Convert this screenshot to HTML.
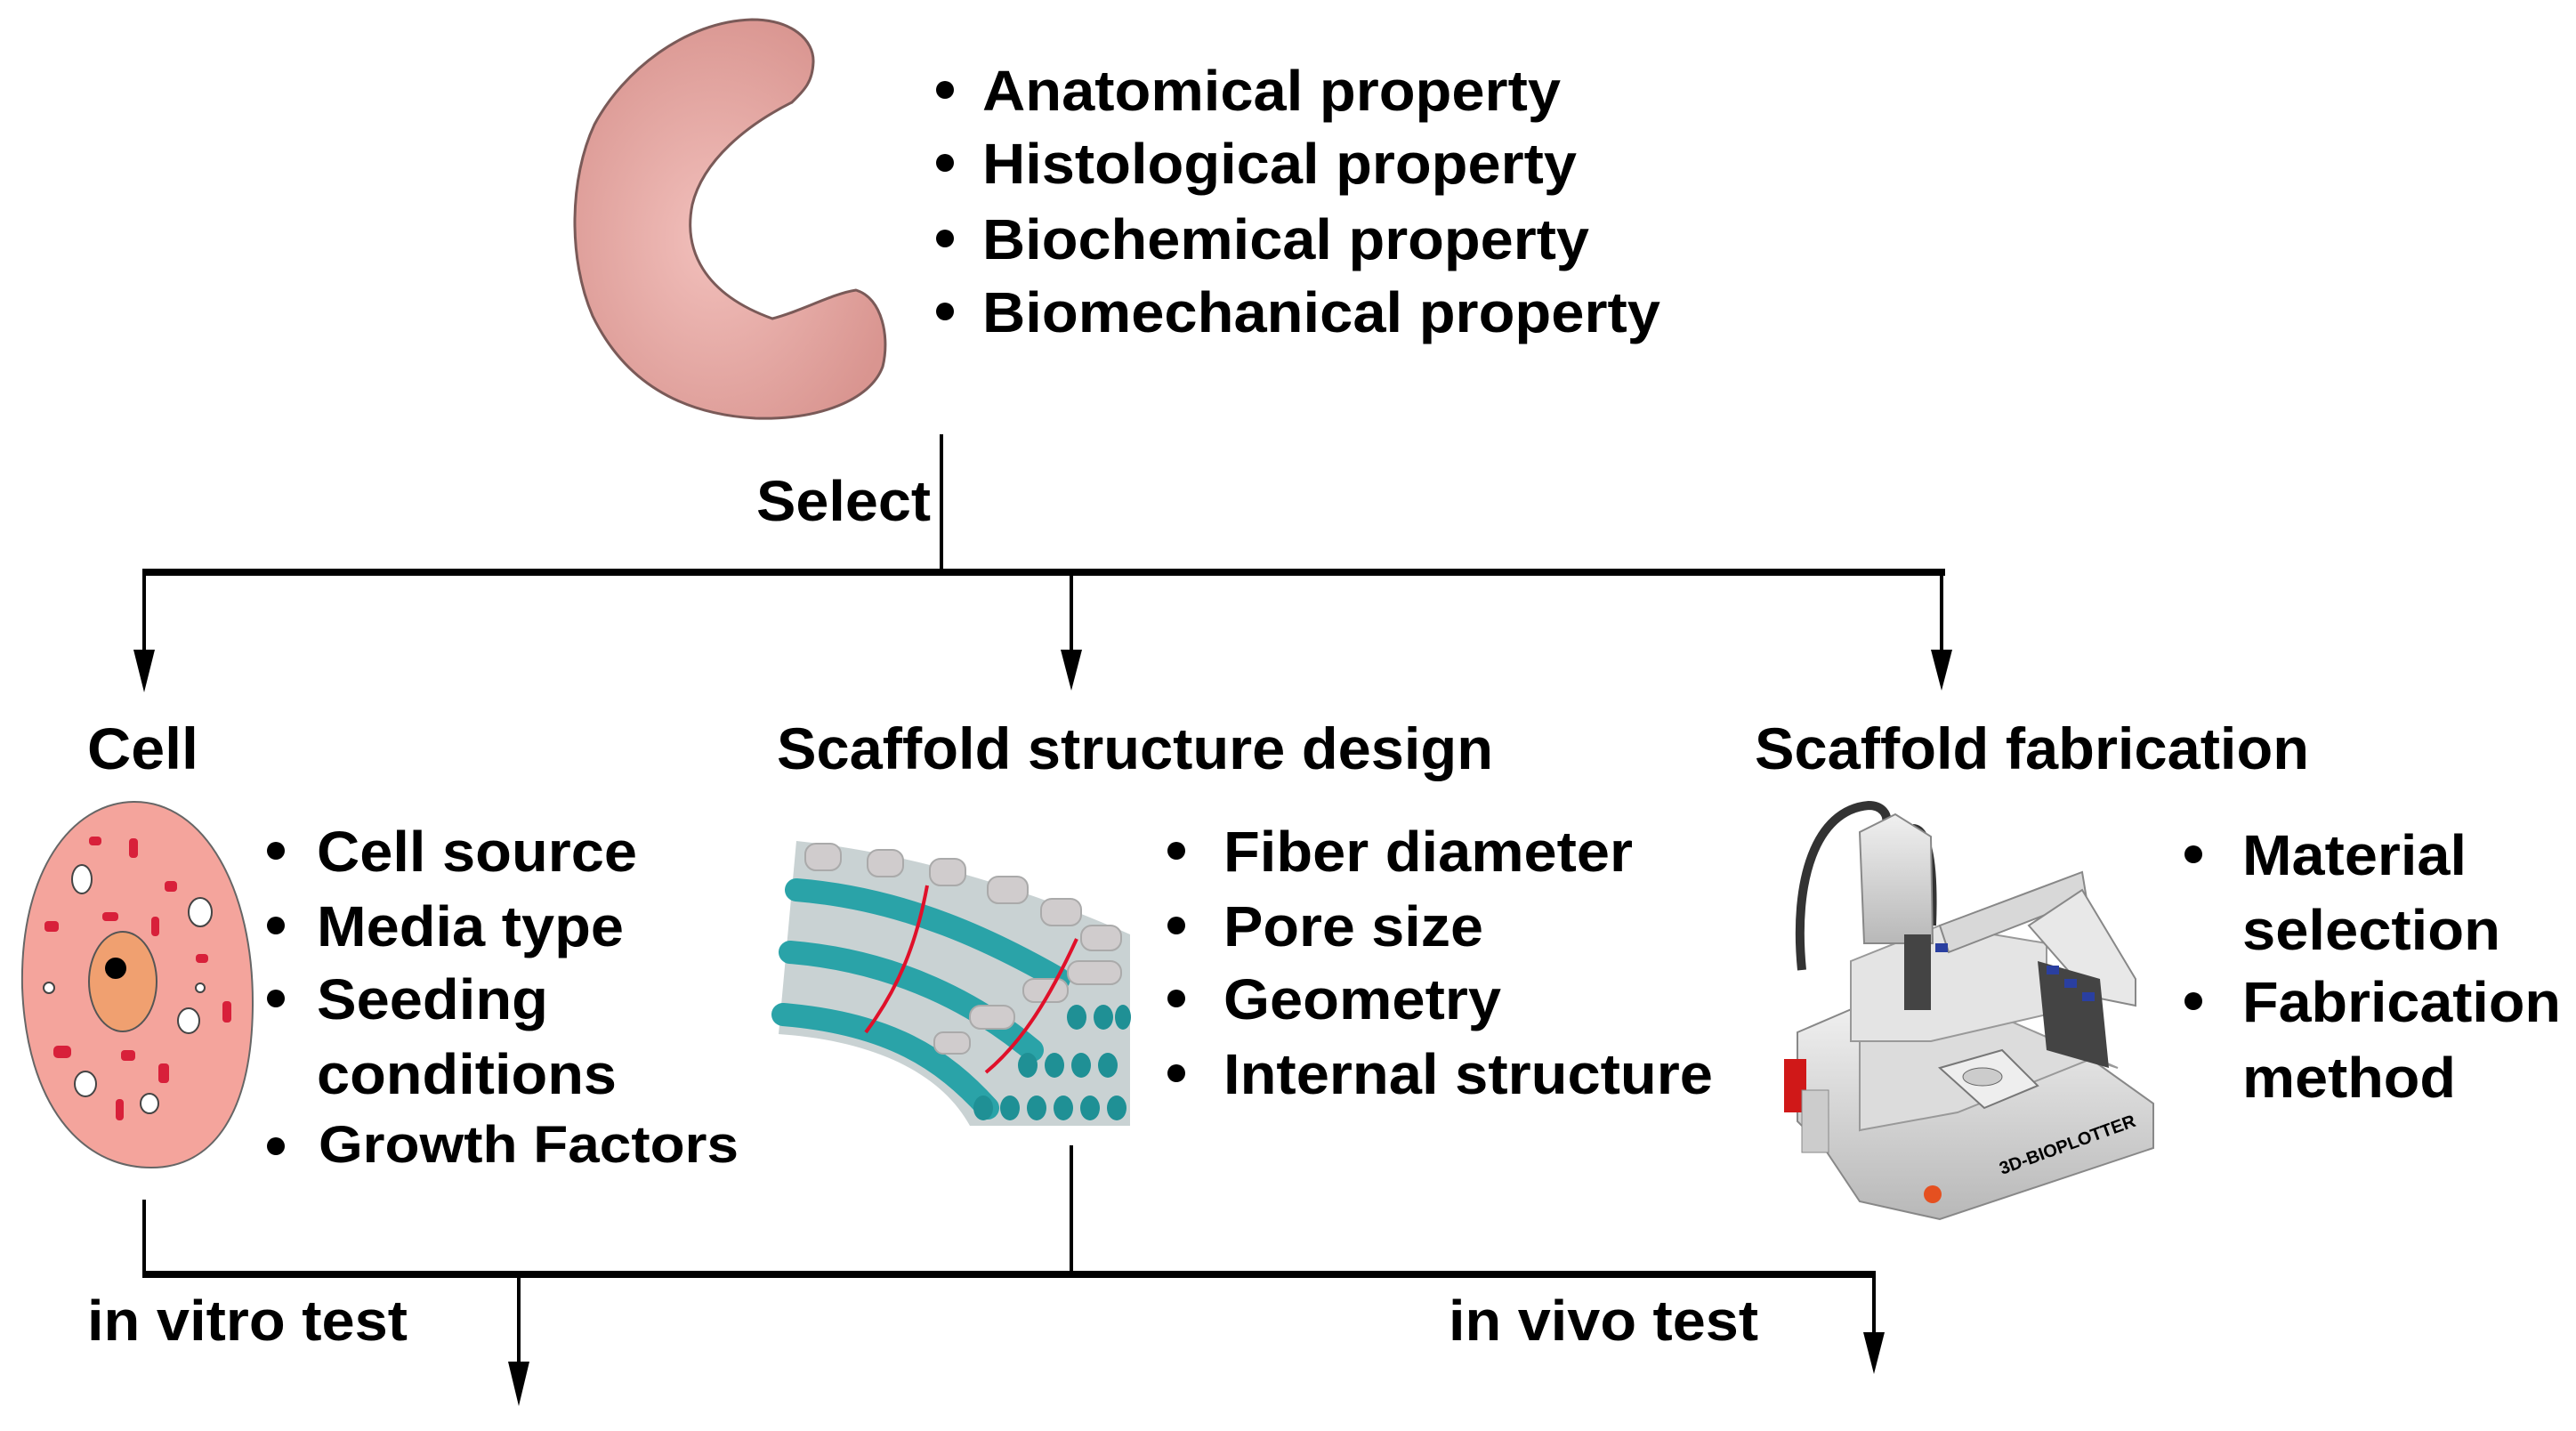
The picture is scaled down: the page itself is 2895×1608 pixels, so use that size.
<!DOCTYPE html>
<html><head><meta charset="utf-8"><style>
html,body{margin:0;padding:0;background:#fff;}
svg{display:block;}
text{font-family:"Liberation Sans",Arial,sans-serif;font-weight:bold;fill:#000;}
</style></head><body>
<svg width="2895" height="1608" viewBox="0 0 2895 1608" xmlns="http://www.w3.org/2000/svg">
<defs>
<radialGradient id="kid" cx="0.45" cy="0.55" r="0.6"><stop offset="0" stop-color="#f2c0bc"/><stop offset="1" stop-color="#d99590"/></radialGradient>
<linearGradient id="gr" x1="0" y1="0" x2="0" y2="1"><stop offset="0" stop-color="#f0f0f0"/><stop offset="1" stop-color="#b8b8b8"/></linearGradient>
</defs>
<!-- kidney -->
<path d="M845,22 C890,22 915,45 914,70 C913,92 905,100 890,115 C840,140 790,180 778,230 C768,280 790,330 868,358 C900,350 935,330 962,326 C992,335 1000,380 992,412 C978,450 920,472 849,470 C760,465 700,425 666,355 C638,290 640,200 668,140 C700,80 770,24 845,22 Z" fill="url(#kid)" stroke="#7a5a58" stroke-width="3"/>
<!-- top bullets -->
<g font-size="64">
<circle cx="1062" cy="101" r="10"/><text x="1104" y="124" textLength="650" lengthAdjust="spacingAndGlyphs">Anatomical property</text>
<circle cx="1062" cy="183" r="10"/><text x="1104" y="206" textLength="668" lengthAdjust="spacingAndGlyphs">Histological property</text>
<circle cx="1062" cy="268" r="10"/><text x="1104" y="291" textLength="682" lengthAdjust="spacingAndGlyphs">Biochemical property</text>
<circle cx="1062" cy="350" r="10"/><text x="1104" y="373" textLength="762" lengthAdjust="spacingAndGlyphs">Biomechanical property</text>
</g>
<!-- select connectors -->
<line x1="1058" y1="488" x2="1058" y2="644" stroke="#000" stroke-width="4"/>
<text x="850" y="585" font-size="64" textLength="196" lengthAdjust="spacingAndGlyphs">Select</text>
<line x1="160" y1="643" x2="2186" y2="643" stroke="#000" stroke-width="8"/>
<g stroke="#000" stroke-width="4">
<line x1="162" y1="643" x2="162" y2="750"/><line x1="1204" y1="643" x2="1204" y2="750"/><line x1="2182" y1="643" x2="2182" y2="750"/>
</g>
<polygon points="150,730 174,730 162,778" fill="#000"/>
<polygon points="1192,730 1216,730 1204,776" fill="#000"/>
<polygon points="2170,730 2194,730 2182,776" fill="#000"/>
<!-- headings -->
<g font-size="66">
<text x="98" y="864" textLength="125" lengthAdjust="spacingAndGlyphs">Cell</text>
<text x="873" y="864" textLength="805" lengthAdjust="spacingAndGlyphs">Scaffold structure design</text>
<text x="1972" y="864" textLength="623" lengthAdjust="spacingAndGlyphs">Scaffold fabrication</text>
</g>
<!-- cell image -->
<path d="M150,901 C230,900 285,1000 284,1130 C283,1250 240,1312 170,1312 C90,1312 30,1240 25,1110 C22,980 80,902 150,901 Z" fill="#f4a49c" stroke="#666" stroke-width="2"/>
<ellipse cx="138" cy="1103" rx="38" ry="56" fill="#f0a070" stroke="#555" stroke-width="2"/>
<circle cx="130" cy="1088" r="12" fill="#000"/>
<g fill="#fff" stroke="#444" stroke-width="2">
<ellipse cx="92" cy="988" rx="11" ry="16"/><ellipse cx="225" cy="1025" rx="13" ry="16"/><ellipse cx="212" cy="1147" rx="12" ry="14"/>
<ellipse cx="96" cy="1218" rx="12" ry="14"/><ellipse cx="168" cy="1240" rx="10" ry="11"/><circle cx="55" cy="1110" r="6"/><circle cx="225" cy="1110" r="5"/>
</g>
<g fill="#d8203a">
<rect x="100" y="940" width="14" height="10" rx="4"/><rect x="145" y="942" width="10" height="22" rx="4"/><rect x="185" y="990" width="14" height="12" rx="4"/>
<rect x="115" y="1025" width="18" height="10" rx="4"/><rect x="50" y="1035" width="16" height="12" rx="4"/><rect x="170" y="1030" width="9" height="22" rx="4"/>
<rect x="250" y="1125" width="10" height="24" rx="4"/><rect x="60" y="1175" width="20" height="14" rx="5"/><rect x="136" y="1180" width="16" height="12" rx="4"/>
<rect x="178" y="1195" width="12" height="22" rx="4"/><rect x="130" y="1235" width="9" height="24" rx="4"/><rect x="220" y="1072" width="14" height="10" rx="4"/>
</g>
<!-- cell bullets -->
<g font-size="64">
<circle cx="310" cy="956" r="10"/><text x="356" y="979" textLength="360" lengthAdjust="spacingAndGlyphs">Cell source</text>
<circle cx="310" cy="1040" r="10"/><text x="356" y="1063" textLength="345" lengthAdjust="spacingAndGlyphs">Media type</text>
<circle cx="310" cy="1122" r="10"/><text x="356" y="1145" textLength="260" lengthAdjust="spacingAndGlyphs">Seeding</text>
<text x="356" y="1229" textLength="337" lengthAdjust="spacingAndGlyphs">conditions</text>
<circle cx="310" cy="1288" r="10"/><text x="358" y="1306" font-size="58" textLength="472" lengthAdjust="spacingAndGlyphs">Growth Factors</text>
</g>
<!-- scaffold image -->
<path d="M895,945 C1040,960 1180,1010 1270,1050 L1270,1265 L1090,1265 C1060,1210 990,1170 875,1162 Z" fill="#c9d2d3"/>
<g fill="none" stroke="#2aa3a8" stroke-width="26" stroke-linecap="round">
<path d="M895,1000 C1020,1010 1120,1060 1190,1100"/>
<path d="M888,1070 C1010,1080 1100,1130 1160,1180"/>
<path d="M880,1140 C1000,1150 1060,1190 1110,1245"/>
</g>
<g fill="#d0cccd" stroke="#aaa" stroke-width="2">
<rect x="905" y="948" width="40" height="30" rx="12"/><rect x="975" y="955" width="40" height="30" rx="12"/><rect x="1045" y="965" width="40" height="30" rx="12"/>
<rect x="1110" y="985" width="45" height="30" rx="12"/><rect x="1170" y="1010" width="45" height="30" rx="12"/><rect x="1215" y="1040" width="45" height="28" rx="12"/>
<rect x="1200" y="1080" width="60" height="26" rx="12"/><rect x="1150" y="1100" width="50" height="26" rx="12"/>
<rect x="1090" y="1130" width="50" height="26" rx="12"/><rect x="1050" y="1160" width="40" height="24" rx="10"/>
</g>
<g fill="#1f9095">
<ellipse cx="1210" cy="1143" rx="11" ry="14"/><ellipse cx="1240" cy="1143" rx="11" ry="14"/><ellipse cx="1262" cy="1143" rx="9" ry="14"/>
<ellipse cx="1155" cy="1197" rx="11" ry="14"/><ellipse cx="1185" cy="1197" rx="11" ry="14"/><ellipse cx="1215" cy="1197" rx="11" ry="14"/><ellipse cx="1245" cy="1197" rx="11" ry="14"/>
<ellipse cx="1105" cy="1245" rx="11" ry="14"/><ellipse cx="1135" cy="1245" rx="11" ry="14"/><ellipse cx="1165" cy="1245" rx="11" ry="14"/><ellipse cx="1195" cy="1245" rx="11" ry="14"/><ellipse cx="1225" cy="1245" rx="11" ry="14"/><ellipse cx="1255" cy="1245" rx="11" ry="14"/>
</g>
<path d="M1042,995 C1030,1060 1010,1110 973,1160" stroke="#e0102a" stroke-width="4" fill="none"/>
<path d="M1210,1055 C1180,1120 1150,1170 1108,1205" stroke="#e0102a" stroke-width="4" fill="none"/>
<!-- scaffold bullets -->
<g font-size="64">
<circle cx="1322" cy="956" r="10"/><text x="1375" y="979" textLength="460" lengthAdjust="spacingAndGlyphs">Fiber diameter</text>
<circle cx="1322" cy="1040" r="10"/><text x="1375" y="1063" textLength="292" lengthAdjust="spacingAndGlyphs">Pore size</text>
<circle cx="1322" cy="1122" r="10"/><text x="1375" y="1145" textLength="312" lengthAdjust="spacingAndGlyphs">Geometry</text>
<circle cx="1322" cy="1206" r="10"/><text x="1375" y="1229" textLength="550" lengthAdjust="spacingAndGlyphs">Internal structure</text>
</g>
<!-- printer -->
<path d="M2025,1090 C2015,990 2040,910 2100,905 C2115,905 2122,915 2120,925" fill="none" stroke="#333" stroke-width="10"/>
<path d="M2150,930 C2165,930 2175,960 2172,1040" fill="none" stroke="#333" stroke-width="8"/>
<polygon points="2020,1160 2090,1130 2090,1270 2350,1190 2420,1240 2420,1290 2180,1370 2090,1350 2050,1290 2020,1260" fill="url(#gr)" stroke="#888" stroke-width="2"/>
<polygon points="2090,1130 2150,1100 2380,1200 2350,1190 2200,1250 2090,1270" fill="#dcdcdc" stroke="#999" stroke-width="2"/>
<polygon points="2180,1200 2250,1180 2290,1220 2230,1245" fill="#eee" stroke="#777" stroke-width="2"/>
<ellipse cx="2228" cy="1210" rx="22" ry="10" fill="#ccc" stroke="#666"/>
<polygon points="2080,1080 2180,1040 2300,1060 2300,1140 2170,1170 2080,1170" fill="#e4e4e4" stroke="#999" stroke-width="2"/>
<polygon points="2090,935 2130,915 2170,940 2172,1060 2095,1060" fill="url(#gr)" stroke="#888" stroke-width="2"/>
<polygon points="2180,1040 2340,980 2345,1010 2190,1070" fill="#d8d8d8" stroke="#888" stroke-width="2"/>
<polygon points="2280,1040 2340,1000 2400,1100 2400,1130 2350,1120" fill="#e8e8e8" stroke="#888" stroke-width="2"/>
<rect x="2140" y="1050" width="30" height="85" fill="#444"/>
<polygon points="2290,1080 2360,1100 2370,1200 2300,1180" fill="#444"/>
<g fill="#2a3fa0"><rect x="2300" y="1085" width="14" height="10"/><rect x="2320" y="1100" width="14" height="10"/><rect x="2340" y="1115" width="14" height="10"/><rect x="2175" y="1060" width="14" height="10"/></g>
<rect x="2005" y="1190" width="25" height="60" fill="#d01818"/>
<rect x="2025" y="1225" width="30" height="70" fill="#ccc" stroke="#888"/>
<circle cx="2172" cy="1342" r="10" fill="#e55020"/>
<text x="2250" y="1320" font-size="20" fill="#2a3a60" transform="rotate(-20 2250 1320)">3D-BIOPLOTTER</text>
<!-- fab bullets -->
<g font-size="64">
<circle cx="2465" cy="960" r="10"/><text x="2520" y="983" textLength="252" lengthAdjust="spacingAndGlyphs">Material</text>
<text x="2520" y="1067" textLength="290" lengthAdjust="spacingAndGlyphs">selection</text>
<circle cx="2465" cy="1125" r="10"/><text x="2520" y="1148" textLength="358" lengthAdjust="spacingAndGlyphs">Fabrication</text>
<text x="2520" y="1233" textLength="240" lengthAdjust="spacingAndGlyphs">method</text>
</g>
<!-- bottom connectors -->
<g stroke="#000" stroke-width="4">
<line x1="162" y1="1348" x2="162" y2="1432"/><line x1="1204" y1="1287" x2="1204" y2="1432"/>
<line x1="583" y1="1432" x2="583" y2="1550"/><line x1="2106" y1="1432" x2="2106" y2="1515"/>
</g>
<line x1="160" y1="1432" x2="2108" y2="1432" stroke="#000" stroke-width="8"/>
<polygon points="571,1530 595,1530 583,1580" fill="#000"/>
<polygon points="2094,1497 2118,1497 2106,1544" fill="#000"/>
<g font-size="64">
<text x="98" y="1506" textLength="360" lengthAdjust="spacingAndGlyphs">in vitro test</text>
<text x="1628" y="1506" textLength="348" lengthAdjust="spacingAndGlyphs">in vivo test</text>
</g>
</svg>
</body></html>
